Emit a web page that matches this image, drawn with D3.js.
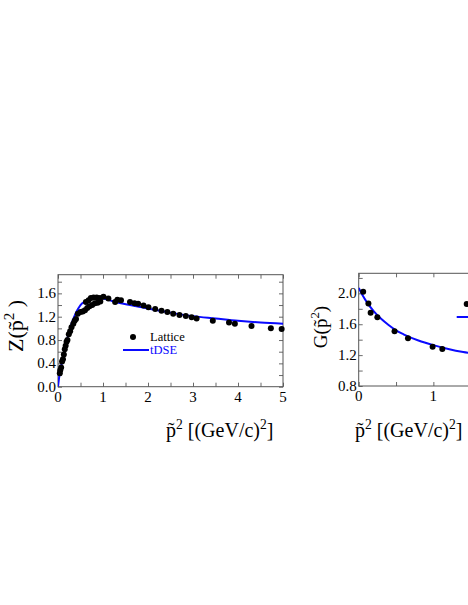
<!DOCTYPE html>
<html><head><meta charset="utf-8">
<script src="https://cdn.jsdelivr.net/npm/d3@7"></script>
<style>
body{margin:0;background:#fff}
svg{display:block}
</style>
</head><body>
<svg id="c" width="468" height="605" font-family="'Liberation Serif','Times New Roman',serif"></svg>
<script>
// ---------------- data ----------------
// Left panel: Z(p^2)
const zLatticeX = [0.04,0.05,0.07,0.09,0.11,0.13,0.15,0.17,0.19,0.21,0.24,0.27,0.30,0.34,0.37,0.40,0.44,0.50,0.55,0.60,0.65,0.70,0.76,0.82,0.88,0.94,
  0.62,0.68,0.73,0.79,0.86,0.93,1.01,1.12,1.27,1.32,1.40,1.60,1.70,1.78,1.90,2.01,2.16,2.30,2.43,2.56,2.70,2.84,2.97,3.08,3.44,3.80,3.93,4.30,4.73,4.97];
const zLatticeY = [0.23,0.28,0.33,0.43,0.47,0.55,0.64,0.70,0.77,0.80,0.90,0.95,1.02,1.08,1.13,1.16,1.25,1.28,1.29,1.31,1.35,1.38,1.40,1.43,1.44,1.46,
  1.45,1.48,1.52,1.53,1.53,1.52,1.54,1.51,1.45,1.49,1.48,1.45,1.43,1.42,1.39,1.36,1.33,1.30,1.28,1.25,1.23,1.21,1.19,1.17,1.13,1.10,1.08,1.04,1.00,0.99];
const zCurveX = [0,0.02,0.05,0.08,0.12,0.16,0.2,0.25,0.3,0.35,0.4,0.45,0.5,0.6,0.7,0.8,0.9,1.0,1.2,1.4,1.6,1.8,2.0,2.5,3.0,3.5,4.0,4.5,5.0];
const zCurveY = [0,0.13,0.27,0.39,0.54,0.68,0.80,0.95,1.08,1.18,1.27,1.34,1.40,1.46,1.50,1.515,1.515,1.51,1.47,1.43,1.40,1.37,1.34,1.27,1.21,1.17,1.13,1.10,1.08];
const zXTickLabels = [0,1,2,3,4,5];
const zYTickLabels = [0.0,0.4,0.8,1.2,1.6];

// Right panel: G(p^2)
const gLatticeX = [0.06,0.13,0.16,0.25,0.48,0.66,0.99,1.12];
const gLatticeY = [2.02,1.87,1.75,1.69,1.51,1.42,1.31,1.28];
const gCurveX = [0,0.05,0.1,0.2,0.3,0.4,0.5,0.6,0.8,1.0,1.2,1.4,1.6,2.0,2.5,3.0];
const gCurveY = [2.07,1.98,1.90,1.77,1.67,1.59,1.52,1.47,1.39,1.33,1.28,1.24,1.21,1.16,1.11,1.07];
const gXTickLabels = [0,1,2,3];
const gYTickLabels = [0.8,1.2,1.6,2.0];

const legendNames = ["Lattice","tDSE"];

// ---------------- drawing ----------------
const svg = d3.select("#c");
svg.append("rect").attr("width",468).attr("height",605).attr("fill","#fff");
const BLUE = "#0a0aff";

function richText(g, parts, size){
  const t = g.append("text").attr("font-size", size);
  let sup = false;
  parts.forEach(([s, isSup]) => {
    const ts = t.append("tspan").text(s);
    if (isSup && !sup) { ts.attr("dy", -size*0.42).attr("font-size", size*0.68); sup = true; }
    else if (!isSup && sup) { ts.attr("dy", size*0.42); sup = false; }
  });
  return t;
}

function panel(cfg){
  const x = d3.scaleLinear().domain(cfg.xDomain).range(cfg.xRange);
  const y = d3.scaleLinear().domain(cfg.yDomain).range(cfg.yRange);
  const g = svg.append("g");
  const [x0,x1] = cfg.xRange, [yb,yt] = cfg.yRange;
  const clipId = cfg.id + "clip";
  g.append("clipPath").attr("id", clipId).append("rect")
    .attr("x", x0).attr("y", yt).attr("width", x1-x0).attr("height", yb-yt);

  const xt = d3.range(cfg.xDomain[0], cfg.xDomain[1]+1e-9, cfg.xStep);
  const yt2 = d3.range(cfg.yDomain[0], cfg.yDomain[1]+1e-9, cfg.yStep);
  const axB = d3.axisBottom(x).tickValues(xt).tickSize(-4).tickFormat("");
  const axT = d3.axisTop(x).tickValues(xt).tickSize(-4).tickFormat("");
  const axL = d3.axisLeft(y).tickValues(yt2).tickSize(-4).tickFormat("");
  const axR = d3.axisRight(y).tickValues(yt2).tickSize(-4).tickFormat("");
  [[axB,`translate(0,${yb})`],[axT,`translate(0,${yt})`],[axL,`translate(${x0},0)`],[axR,`translate(${x1},0)`]]
    .forEach(([ax,tr]) => {
      const a = g.append("g").attr("transform", tr).call(ax);
      a.select(".domain").remove();
      a.selectAll("line").attr("stroke","#444").attr("stroke-width",0.8);
    });
  g.append("rect").attr("x",x0).attr("y",yt).attr("width",x1-x0).attr("height",yb-yt)
    .attr("fill","none").attr("stroke","#555").attr("stroke-width",1);

  g.selectAll(".xl").data(cfg.xLabels).enter().append("text")
    .attr("x", d=>x(d)).attr("y", yb+15).attr("text-anchor","middle")
    .attr("font-size",15).text(d=>d);
  g.selectAll(".yl").data(cfg.yLabels).enter().append("text")
    .attr("x", x0-2).attr("y", d=>y(d)+5).attr("text-anchor","end")
    .attr("font-size",15).text(d=>d.toFixed(1));

  const line = d3.line().x(d=>x(d[0])).y(d=>y(d[1])).curve(d3.curveMonotoneX);
  g.append("path").datum(d3.zip(cfg.cx, cfg.cy)).attr("d", line)
    .attr("fill","none").attr("stroke",BLUE).attr("stroke-width",2)
    .attr("clip-path",`url(#${clipId})`);
  g.selectAll(".pt").data(d3.zip(cfg.px, cfg.py)).enter().append("circle")
    .attr("cx", d=>x(d[0])).attr("cy", d=>y(d[1])).attr("r",3).attr("fill","#000");

  const xt1 = richText(g.append("g").attr("transform",`translate(${cfg.xTitlePos[0]},${cfg.xTitlePos[1]})`),
    [["p\u0303",false],["2",true],[cfg.xGap+"[(GeV/c)",false],["2",true],["]",false]], cfg.xTitleSize);
  xt1.attr("text-anchor","start");
  const yt1 = richText(g.append("g").attr("transform",`translate(${cfg.yTitlePos[0]},${cfg.yTitlePos[1]}) rotate(-90)`),
    [[cfg.yName+"(p\u0303",false],["2",true],[cfg.yClose,false]], cfg.yTitleSize);
  yt1.attr("text-anchor","middle");

  const lg = g.append("g");
  lg.append("circle").attr("cx",cfg.leg[0]+10).attr("cy",cfg.leg[1]).attr("r",3).attr("fill","#000");
  lg.append("text").attr("x",cfg.leg[0]+27).attr("y",cfg.leg[1]+4).attr("font-size",12.5).text(legendNames[0]);
  lg.append("line").attr("x1",cfg.leg[0]).attr("x2",cfg.leg[0]+26).attr("y1",cfg.leg[1]+13).attr("y2",cfg.leg[1]+13)
    .attr("stroke",BLUE).attr("stroke-width",2);
  lg.append("text").attr("x",cfg.leg[0]+27).attr("y",cfg.leg[1]+17).attr("font-size",12.5).attr("fill",BLUE).text(legendNames[1]);
}

panel({id:"z", xDomain:[0,5], xRange:[58,283], yDomain:[0,1.92], yRange:[386.7,274.7],
  xStep:0.5, yStep:0.2, xLabels:zXTickLabels, yLabels:zYTickLabels,
  px:zLatticeX, py:zLatticeY, cx:zCurveX, cy:zCurveY,
  xTitlePos:[166,437], xTitleSize:20, xGap:" ", yTitlePos:[23,326], yTitleSize:22, yName:"Z", yClose:" )",
  leg:[123,337]});
panel({id:"g", xDomain:[0,3], xRange:[358.7,582.7], yDomain:[0.8,2.26], yRange:[386,273.3],
  xStep:0.5, yStep:0.2, xLabels:gXTickLabels, yLabels:gYTickLabels,
  px:gLatticeX, py:gLatticeY, cx:gCurveX, cy:gCurveY,
  xTitlePos:[355,437], xTitleSize:20, xGap:"  ", yTitlePos:[327,327], yTitleSize:19, yName:"G", yClose:")",
  leg:[456.7,304]});
</script>
</body></html>
